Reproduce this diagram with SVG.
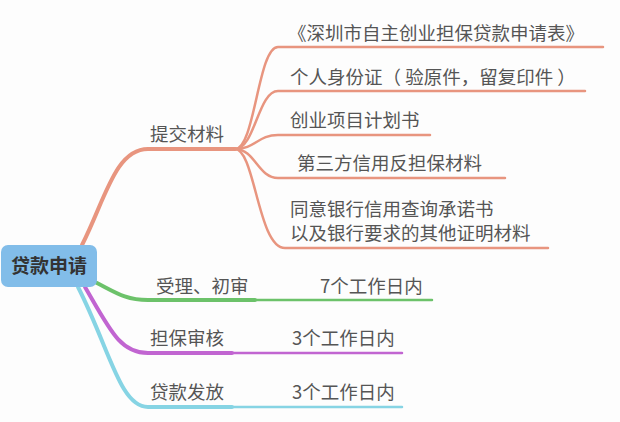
<svg xmlns="http://www.w3.org/2000/svg" width="620" height="422" viewBox="0 0 620 422">
<style>
text{font-family:"Noto Sans CJK SC",sans-serif;font-size:18.5px;fill:#555}
.o{stroke:#e8957f;fill:none;stroke-linecap:round}
path{fill:none;stroke-linecap:round}
</style>
<rect width="620" height="422" fill="#fdfdfd"/>
<g id="connectors">
<path class="o" stroke-width="4" d="M82,245 C105,200 115,149 148,149 L235,149"/>
<path class="o" stroke-width="2.5" d="M235,149 C255,149 258,47 278,47 L603,47"/>
<path class="o" stroke-width="2.5" d="M235,149 C255,149 258,91 278,91 L585,91"/>
<path class="o" stroke-width="2.5" d="M235,149 C255,149 258,135 278,135 L430,135"/>
<path class="o" stroke-width="2.5" d="M235,149 C255,149 258,178 278,178 L505,178"/>
<path class="o" stroke-width="2.5" d="M235,149 C255,149 258,248 285,248 L548,248"/>
<path stroke="#6cc26a" stroke-width="4" d="M95,282 C115,292 125,300 148,300 L255,300"/>
<path stroke="#6cc26a" stroke-width="2.5" d="M255,300 L432,300"/>
<path stroke="#c165d1" stroke-width="4" d="M85,287 C110,330 120,353 148,353 L232,353"/>
<path stroke="#c165d1" stroke-width="2.5" d="M232,353 L402,353"/>
<path stroke="#86d4e4" stroke-width="4" d="M78,287 C110,350 120,407 148,407 L232,407"/>
<path stroke="#86d4e4" stroke-width="2.5" d="M232,407 L402,407"/>
</g>
<g id="root"><rect x="1" y="245" width="96" height="42" rx="7" fill="#82bde9"/><text x="49" y="273" text-anchor="middle" style="font-weight:bold;fill:#333;font-size:19px">贷款申请</text></g>
<g id="n1"><text x="150" y="141">提交材料</text></g>
<g id="n1a"><text x="288" y="40">《深圳市自主创业担保贷款申请表》</text></g>
<g id="n1b"><text x="290" y="84">个人身份证（ 验原件，留复印件 ）</text></g>
<g id="n1c"><text x="290" y="127">创业项目计划书</text></g>
<g id="n1d"><text x="297" y="170">第三方信用反担保材料</text></g>
<g id="n1e"><text x="290" y="216">同意银行信用查询承诺书</text><text x="290" y="240">以及银行要求的其他证明材料</text></g>
<g id="n2"><text x="156" y="293">受理、初审</text><text x="320" y="293">7个工作日内</text></g>
<g id="n3"><text x="150" y="345">担保审核</text><text x="292" y="345">3个工作日内</text></g>
<g id="n4"><text x="150" y="399">贷款发放</text><text x="292" y="399">3个工作日内</text></g>
</svg>
